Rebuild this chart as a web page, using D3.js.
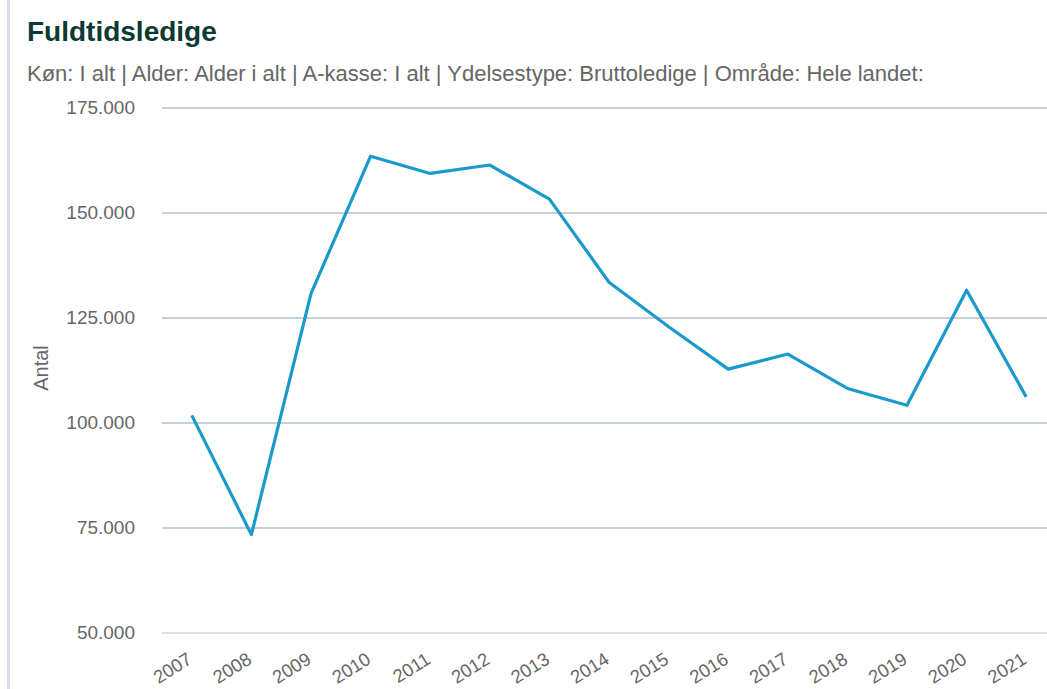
<!doctype html>
<html lang="da">
<head>
    <meta charset="utf-8">
    <title>Fuldtidsledige</title>
    <script src="https://cdnjs.cloudflare.com/ajax/libs/d3/7.8.5/d3.min.js"></script>
    <style>
        html, body { margin: 0; padding: 0; background: #fff; }
        #chart { width: 1047px; height: 689px; overflow: hidden; }
        text { font-family: "Liberation Sans", Arial, sans-serif; }
    </style>
</head>
<body>
    <div id="chart"></div>
    <script>
        // data
        var years = ["2007", "2008", "2009", "2010", "2011", "2012", "2013", "2014",
                     "2015", "2016", "2017", "2018", "2019", "2020", "2021"];
        var ledige = [101700, 73300, 130700, 163400, 159300, 161300, 153200, 133400,
                      122800, 112700, 116300, 108100, 104100, 131500, 106100];
        var yTicks = [50000, 75000, 100000, 125000, 150000, 175000];

        var width = 1047;
        var height = 689;
        var plotLeft = 162;
        var plotRight = 1056;
        var plotTop = 107.5;
        var plotBottom = 632.5;

        var svg = d3.select("#chart")
            .append("svg")
              .attr("width", width)
              .attr("height", height);

        // left border strip
        svg.append("rect")
            .attr("x", 7)
            .attr("y", 0)
            .attr("width", 3)
            .attr("height", height)
            .attr("fill", "#d5dde8");

        // title and subtitle
        svg.append("text")
            .attr("x", 27)
            .attr("y", 41)
            .attr("fill", "#0a3a33")
            .attr("font-size", "28px")
            .attr("font-weight", "bold")
            .text("Fuldtidsledige");

        svg.append("text")
            .attr("x", 27)
            .attr("y", 81)
            .attr("fill", "#666666")
            .attr("font-size", "22px")
            .text("Køn: I alt | Alder: Alder i alt | A-kasse: I alt | Ydelsestype: Bruttoledige | Område: Hele landet:");

        var xScale = d3.scalePoint()
            .domain(years)
            .range([plotLeft, plotRight])
            .padding(0.5);

        var yScale = d3.scaleLinear()
            .domain([50000, 175000])
            .range([plotBottom, plotTop]);

        var fmt = function(d) { return d3.format(",")(d).replace(/,/g, "."); };

        // y axis: gridlines + labels
        var yAxis = d3.axisLeft(yScale)
            .tickValues(yTicks)
            .tickSize(-(plotRight - plotLeft))
            .tickPadding(27)
            .tickFormat(fmt);

        var yG = svg.append("g")
            .attr("class", "y axis")
            .attr("transform", "translate(" + plotLeft + ",0)")
            .call(yAxis);
        yG.select(".domain").remove();
        yG.selectAll(".tick line")
            .attr("stroke", function(d) { return d === 50000 ? "#ccd6eb" : "#b3c2c9"; })
            .attr("stroke-width", 1.5);
        yG.selectAll(".tick text")
            .attr("fill", "#666666")
            .attr("font-size", "19px")
            .attr("font-family", "Liberation Sans, Arial, sans-serif");

        // y axis title
        svg.append("text")
            .attr("transform", "translate(48,368) rotate(-90)")
            .attr("text-anchor", "middle")
            .attr("fill", "#666666")
            .attr("font-size", "20px")
            .text("Antal");

        // x axis labels
        var xAxis = d3.axisBottom(xScale).tickSize(0).tickPadding(0);
        var xG = svg.append("g")
            .attr("class", "x axis")
            .attr("transform", "translate(0," + plotBottom + ")")
            .call(xAxis);
        xG.select(".domain").remove();
        xG.selectAll(".tick text")
            .attr("fill", "#666666")
            .attr("font-size", "18.5px")
            .attr("font-family", "Liberation Sans, Arial, sans-serif")
            .attr("text-anchor", "end")
            .attr("dy", 0)
            .attr("y", 0)
            .attr("transform", "translate(1,30) rotate(-32)");

        // the line
        var line = d3.line()
            .x(function(d, i) { return xScale(years[i]); })
            .y(function(d) { return yScale(d); });

        svg.append("path")
            .datum(ledige)
            .attr("fill", "none")
            .attr("stroke", "#1a9acb")
            .attr("stroke-width", 3.2)
            .attr("stroke-linejoin", "round")
            .attr("d", line);
    </script>
</body>
</html>
